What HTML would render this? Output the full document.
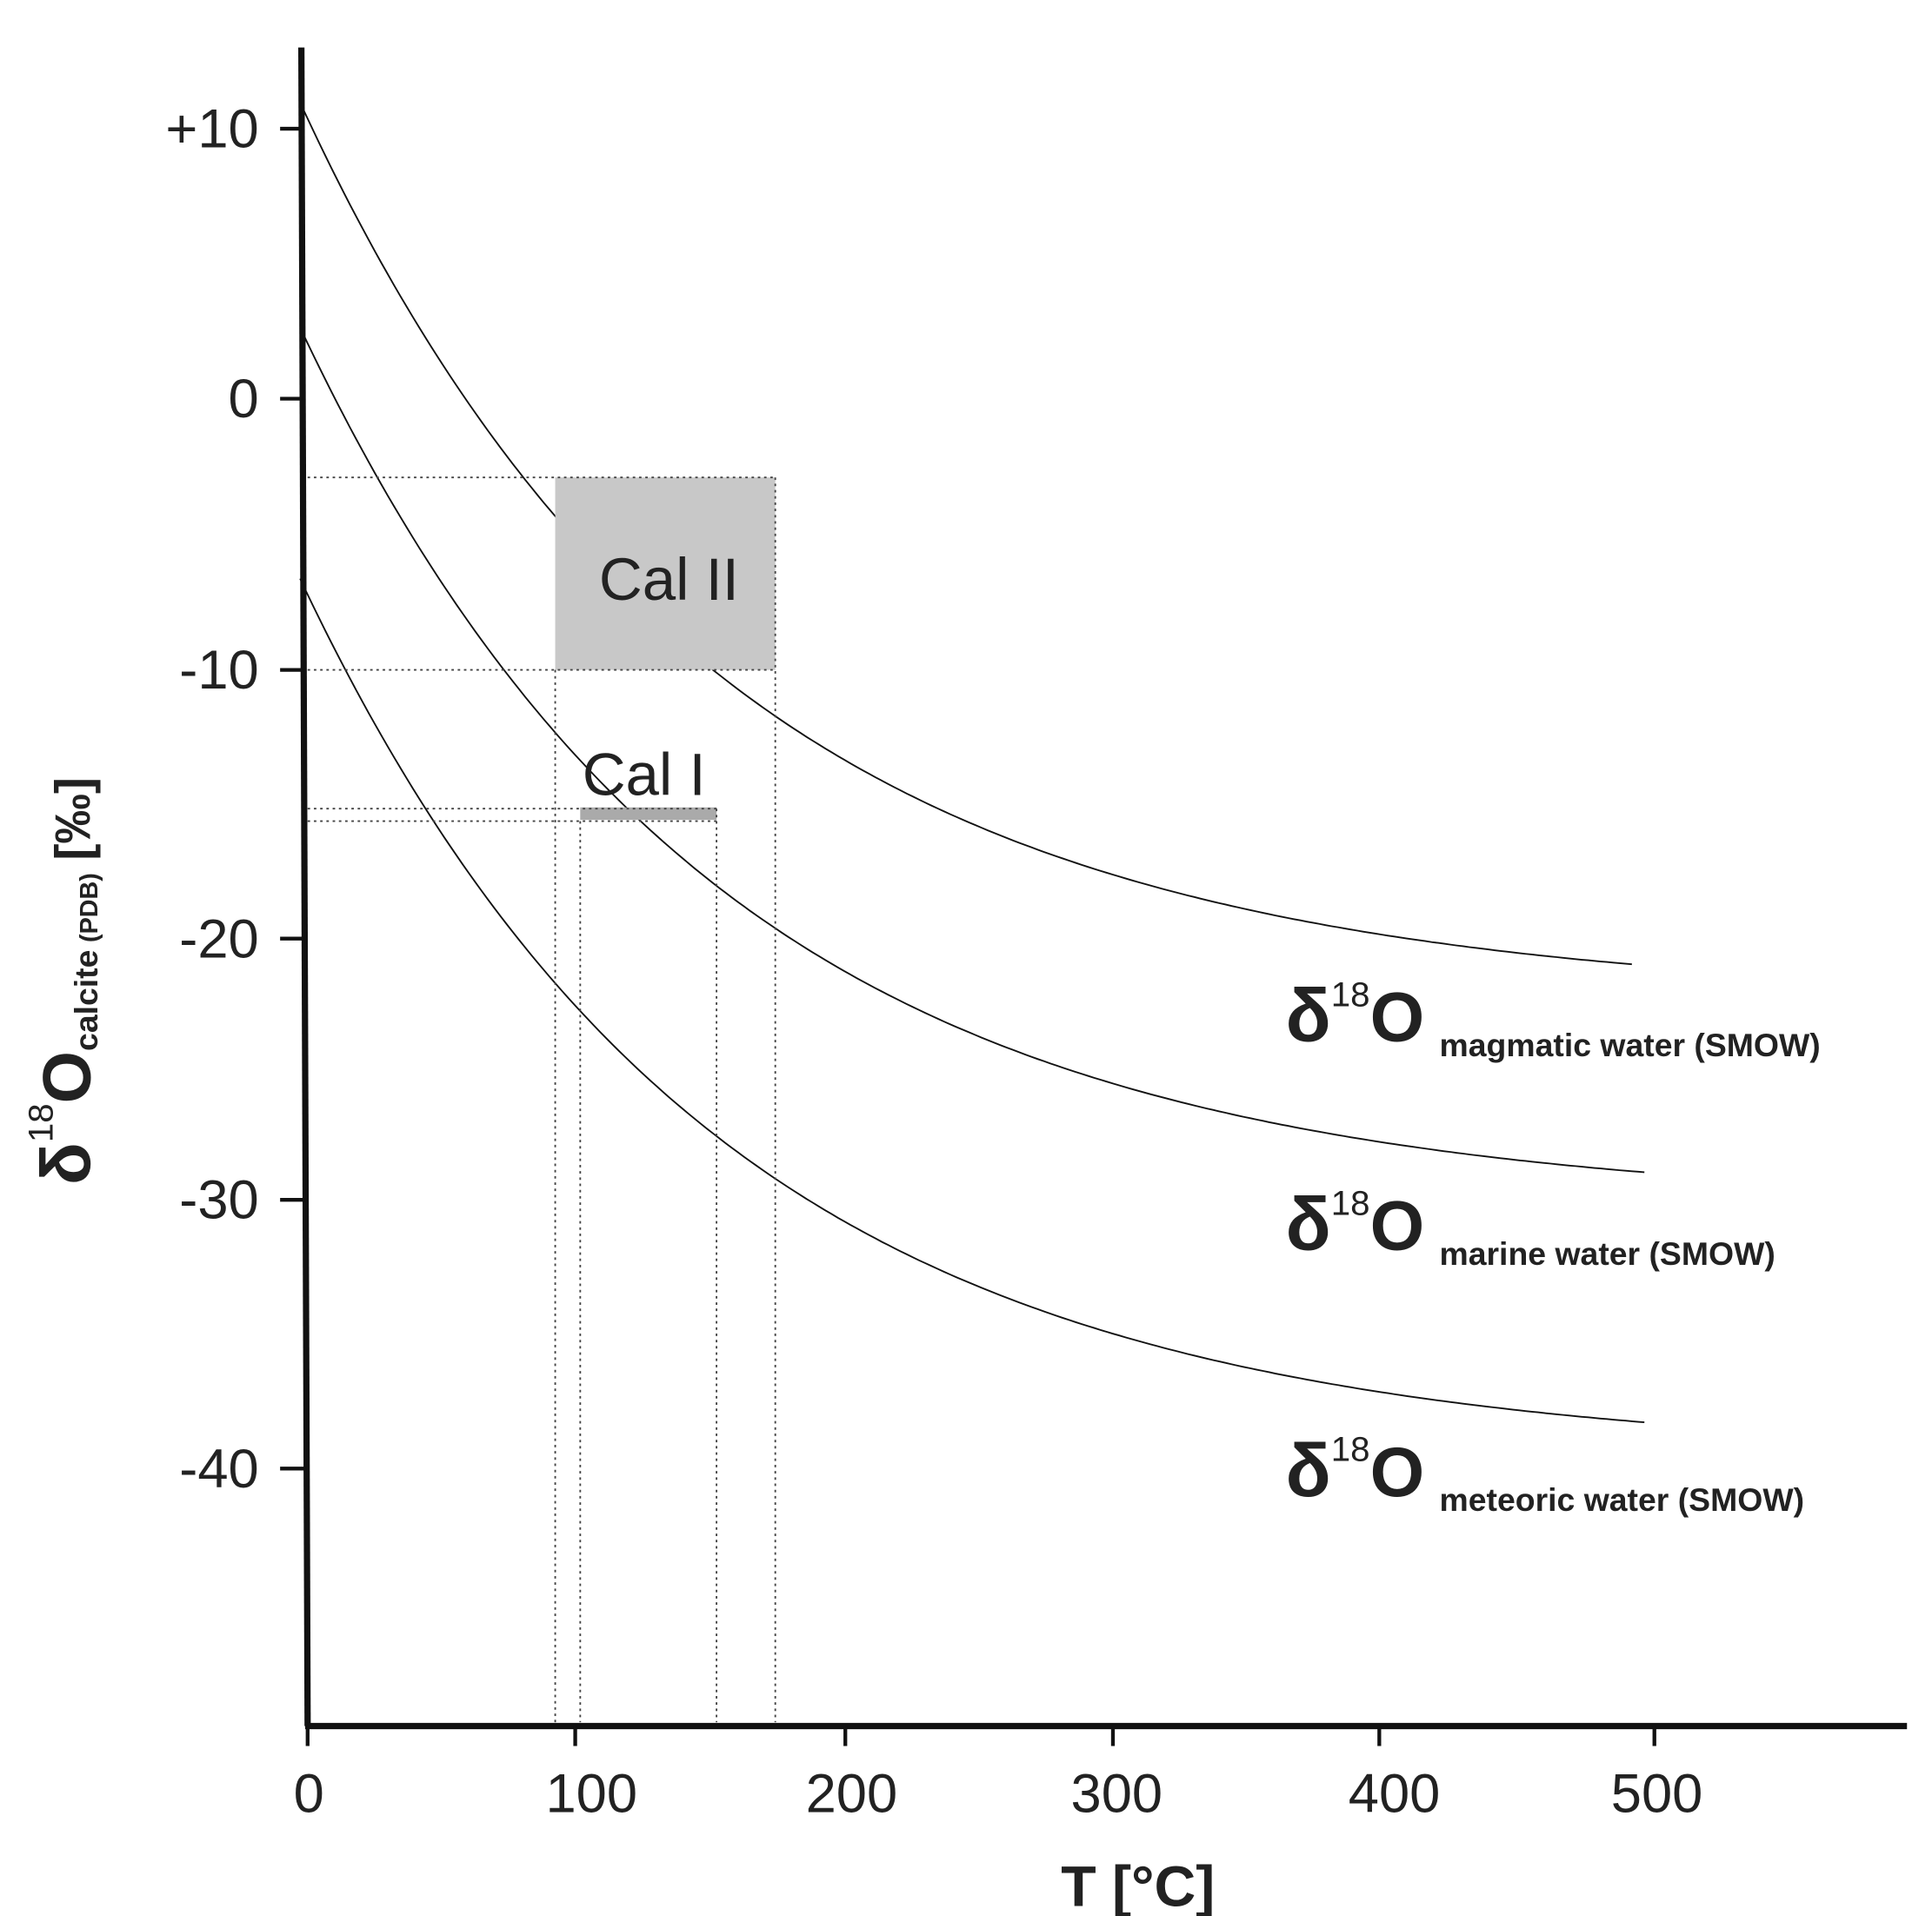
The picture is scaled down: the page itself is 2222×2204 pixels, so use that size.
<!DOCTYPE html>
<html><head><meta charset="utf-8"><style>
html,body{margin:0;padding:0;background:#fff}
svg{display:block}
text{font-family:"Liberation Sans",sans-serif;fill:#222}
</style></head><body>
<svg width="2222" height="2204" viewBox="0 0 1545 1533" preserveAspectRatio="none" xmlns="http://www.w3.org/2000/svg">
<rect x="0" y="0" width="1545" height="1533" fill="#fff"/>
<path id="c1" stroke="#111" stroke-width="1.3" fill="none" d=""/>
<path id="c2" stroke="#111" stroke-width="1.3" fill="none" d=""/>
<path id="c3" stroke="#111" stroke-width="1.3" fill="none" d=""/>
<!-- Cal II box -->
<rect x="444" y="382" width="176" height="154" fill="#c8c8c8"/>
<!-- Cal I bar -->
<rect x="464" y="646" width="109" height="10" fill="#aaa"/>
<g stroke="#444" stroke-width="1.3" stroke-dasharray="2,3" fill="none">
<line x1="246" y1="382" x2="620" y2="382"/>
<line x1="246" y1="536" x2="620" y2="536"/>
<line x1="246" y1="647" x2="573" y2="647"/>
<line x1="246" y1="657" x2="573" y2="657"/>
<line x1="444" y1="536" x2="444" y2="1378"/>
<line x1="464" y1="657" x2="464" y2="1378"/>
<line x1="573" y1="647" x2="573" y2="1378"/>
<line x1="620" y1="382" x2="620" y2="1378"/>
</g>
<!-- axes -->
<line x1="241" y1="38" x2="246" y2="1381" stroke="#111" stroke-width="5"/>
<line x1="244" y1="1381" x2="1525" y2="1381" stroke="#111" stroke-width="5"/>
<g stroke="#111" stroke-width="3">
<line x1="224" y1="103" x2="241" y2="103"/>
<line x1="224" y1="319" x2="242" y2="319"/>
<line x1="224" y1="536" x2="243" y2="536"/>
<line x1="224" y1="751" x2="244" y2="751"/>
<line x1="224" y1="960" x2="245" y2="960"/>
<line x1="224" y1="1175" x2="245" y2="1175"/>
<line x1="246" y1="1381" x2="246" y2="1397"/>
<line x1="460" y1="1381" x2="460" y2="1397"/>
<line x1="676" y1="1381" x2="676" y2="1397"/>
<line x1="890" y1="1381" x2="890" y2="1397"/>
<line x1="1103" y1="1381" x2="1103" y2="1397"/>
<line x1="1323" y1="1381" x2="1323" y2="1397"/>
</g>
<g font-size="44" text-anchor="end">
<text x="207" y="118">+10</text>
<text x="207" y="334">0</text>
<text x="207" y="551">-10</text>
<text x="207" y="766">-20</text>
<text x="207" y="975">-30</text>
<text x="207" y="1190">-40</text>
</g>
<g font-size="44" text-anchor="middle">
<text x="247" y="1450">0</text>
<text x="473" y="1450">100</text>
<text x="681" y="1450">200</text>
<text x="893" y="1450">300</text>
<text x="1115" y="1450">400</text>
<text x="1325" y="1450">500</text>
</g>
<text x="910" y="1525" font-size="46" font-weight="bold" text-anchor="middle" fill="#111">T [°C]</text>
<text x="535" y="480" font-size="48" text-anchor="middle">Cal II</text>
<text x="515" y="636" font-size="48" text-anchor="middle">Cal I</text>
<g fill="#111" font-weight="bold">
<text x="1028" y="833"><tspan font-size="60">δ</tspan><tspan font-size="28" dy="-28" font-weight="normal">18</tspan><tspan font-size="56" dy="28">O</tspan><tspan font-size="26" dx="12" dy="12">magmatic water (SMOW)</tspan></text>
<text x="1028" y="1000"><tspan font-size="60">δ</tspan><tspan font-size="28" dy="-28" font-weight="normal">18</tspan><tspan font-size="56" dy="28">O</tspan><tspan font-size="26" dx="12" dy="12">marine water (SMOW)</tspan></text>
<text x="1028" y="1197"><tspan font-size="60">δ</tspan><tspan font-size="28" dy="-28" font-weight="normal">18</tspan><tspan font-size="56" dy="28">O</tspan><tspan font-size="26" dx="12" dy="12">meteoric water (SMOW)</tspan></text>
<text transform="translate(72,948) rotate(-90)"><tspan font-size="56">δ</tspan><tspan font-size="28" dy="-30" font-weight="normal">18</tspan><tspan font-size="54" dy="30">O</tspan><tspan font-size="26" dy="6">calcite</tspan><tspan font-size="20" dx="6">(PDB)</tspan><tspan font-size="40" dx="10" dy="-6">[‰]</tspan></text>
</g>
</svg>
<script>
function mk(id,a,b,x0,x1){var d="";for(var x=x0;x<=x1;x+=5){var y=a-b*Math.exp(-(x-x0)/330);d+=(d?"L":"M")+x.toFixed(1)+","+y.toFixed(1);}document.getElementById(id).setAttribute("d",d);}
mk("c1",800,718,240,1305);
mk("c2",965,703,240,1315);
mk("c3",1165,702,240,1315);
</script>
</body></html>
